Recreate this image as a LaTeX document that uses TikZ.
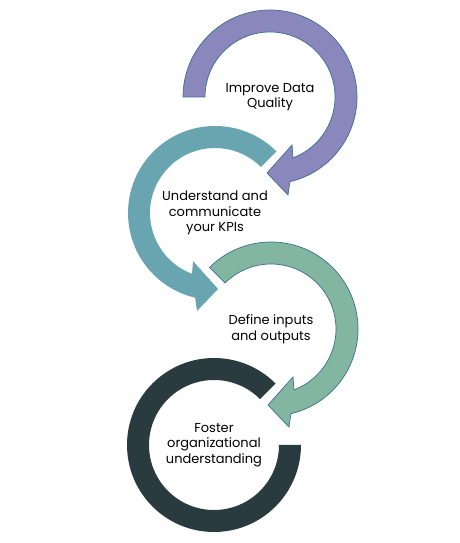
\documentclass[tikz,border=0pt]{standalone}
\usepackage{fontspec}
\setmainfont{Poppins}
\definecolor{purp}{HTML}{8A87BD}
\definecolor{tealc}{HTML}{69A4B1}
\definecolor{grn}{HTML}{83B6A1}
\definecolor{darkc}{HTML}{293B3F}
\definecolor{edgec}{HTML}{3E6F8E}
\begin{document}
\begin{tikzpicture}[x=1pt,y=1pt,
  lbl/.style={align=center, font=\fontsize{13}{15.5}\selectfont, text=black, inner sep=0pt},
  rim/.style={draw=edgec, line width=0.7pt, line join=miter}]
\useasboundingbox (0,0) rectangle (459,543);
\coordinate (cP) at (270,446);
\coordinate (cT) at (215,330);
\coordinate (cG) at (271,214);
\coordinate (cD) at (214,98);

% dark ring
\begin{scope}[shift={(cD)}]
\fill[darkc] (45:87) arc[start angle=45, end angle=360, radius=87] -- (0:65)
  arc[start angle=360, end angle=45, radius=65] -- cycle;
\end{scope}

% green arrow
\begin{scope}[shift={(cG)}]
\fill[grn, rim] (135:87) arc[start angle=135, end angle=-76.8, radius=87]
  -- (18,-98) -- (-3,-76) -- (22,-48) -- (-69.3:65)
  arc[start angle=-69.3, end angle=135, radius=65] -- cycle;
\end{scope}

% teal arrow
\begin{scope}[shift={(cT)}]
\fill[tealc] (45:87) arc[start angle=45, end angle=256.8, radius=87]
  -- (-18,-98) -- (3,-76) -- (-22,-48) -- (249.3:65)
  arc[start angle=249.3, end angle=45, radius=65] -- cycle;
\end{scope}

% purple arrow
\begin{scope}[shift={(cP)}]
\fill[purp, rim] (180:87) arc[start angle=180, end angle=-76.8, radius=87]
  -- (18,-98) -- (-3,-76) -- (22,-48) -- (-69.3:65)
  arc[start angle=-69.3, end angle=180, radius=65] -- cycle;
\end{scope}

\node[lbl] (tP) at (cP) {Improve Data\\Quality};
\node[lbl] (tT) at (cT) {Understand and\\communicate\\your KPIs};
\node[lbl] (tG) at (cG) {Define inputs\\and outputs};
\node[lbl] (tD) at (cD) {Foster\\organizational\\understanding};
\end{tikzpicture}
\end{document}
